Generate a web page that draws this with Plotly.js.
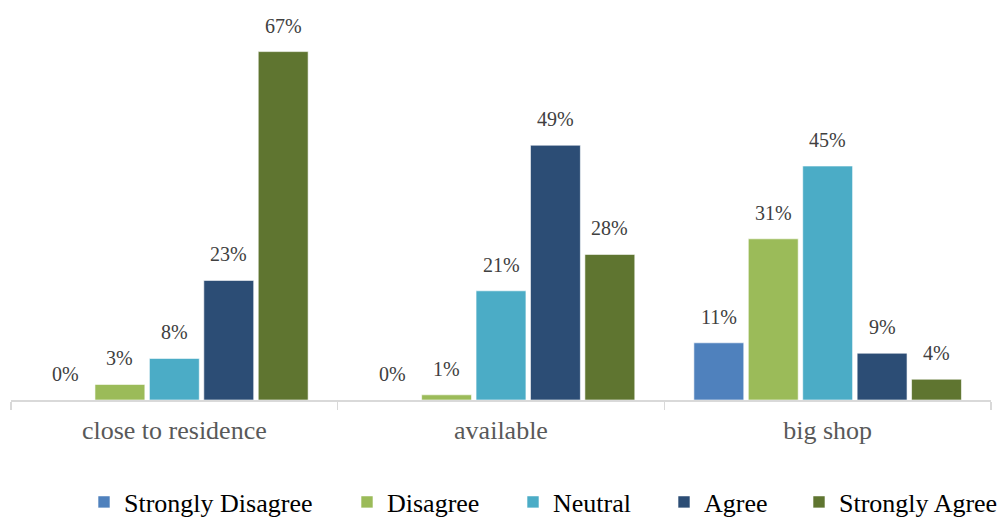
<!DOCTYPE html>
<html>
<head>
<meta charset="utf-8">
<script src="https://cdn.plot.ly/plotly-3.0.1.min.js"></script>
<style>html,body{margin:0;padding:0;background:#fff;}#chart{width:1000px;height:517px;}</style>
</head>
<body>
<div id="chart"></div>
<script>
const categories = ["close to residence", "available", "big shop"];
const seriesNames = ["Strongly Disagree", "Disagree", "Neutral", "Agree", "Strongly Agree"];
const stronglyDisagree = [0, 0, 11];
const disagree = [3, 1, 31];
const neutral = [8, 21, 45];
const agree = [23, 49, 9];
const stronglyAgree = [67, 28, 4];
const seriesColors = ["#4F81BD", "#9BBB59", "#4BACC6", "#2C4D75", "#5F7530"];

const allValues = [stronglyDisagree, disagree, neutral, agree, stronglyAgree];
const legendX = [84, 347, 513, 664, 799];

const W = 1000, H = 517;
const margin = {l: 11, r: 9, t: 10, b: 117};
const bargap = 0.167, bargroupgap = 0.083;
const catWidthPx = (W - margin.l - margin.r) / categories.length;
const pitch = catWidthPx * (1 - bargap) / allValues.length;
const SERIF = "'Liberation Serif', 'Times New Roman', Times, serif";

const traces = allValues.map((vals, i) => ({
  type: "bar",
  name: seriesNames[i],
  x: categories,
  y: vals,
  marker: {color: seriesColors[i], line: {color: "rgba(255,255,255,0.6)", width: 1}},
  legend: i === 0 ? "legend" : "legend" + (i + 1),
  hoverinfo: "skip"
}));

const annotations = [];
allValues.forEach((vals, i) => {
  vals.forEach((v, j) => {
    annotations.push({
      x: categories[j], y: v, xref: "x", yref: "y",
      text: v + "%", showarrow: false,
      xanchor: "center", yanchor: "bottom",
      xshift: (i - (allValues.length - 1) / 2) * pitch,
      yshift: 13,
      font: {family: SERIF, size: 20, color: "#404040"}
    });
  });
});

const legendFont = {family: SERIF, size: 26, color: "#000000"};
const layout = {
  width: W, height: H,
  margin: margin,
  paper_bgcolor: "#ffffff", plot_bgcolor: "#ffffff",
  barmode: "group",
  bargap: bargap, bargroupgap: bargroupgap,
  showlegend: true,
  font: {family: SERIF},
  xaxis: {
    type: "category",
    showline: true, linecolor: "#d9d9d9", linewidth: 1.5,
    ticks: "outside", tickson: "boundaries", ticklen: 8, tickcolor: "#d9d9d9", tickwidth: 1.5,
    ticklabelstandoff: 6,
    showgrid: false, zeroline: false,
    tickfont: {family: SERIF, size: 26, color: "#595959"},
    fixedrange: true
  },
  yaxis: {
    range: [0, 75], visible: false, showgrid: false, zeroline: false, fixedrange: true
  },
  annotations: annotations
};
legendX.forEach((lx, i) => {
  const key = i === 0 ? "legend" : "legend" + (i + 1);
  layout[key] = {
    x: lx / W, y: 1 - 502 / H, xref: "container", yref: "container",
    xanchor: "left", yanchor: "middle",
    orientation: "h", font: legendFont,
    bgcolor: "rgba(0,0,0,0)", borderwidth: 0
  };
});

Plotly.newPlot("chart", traces, layout, {displayModeBar: false, staticPlot: true});
</script>
</body>
</html>
